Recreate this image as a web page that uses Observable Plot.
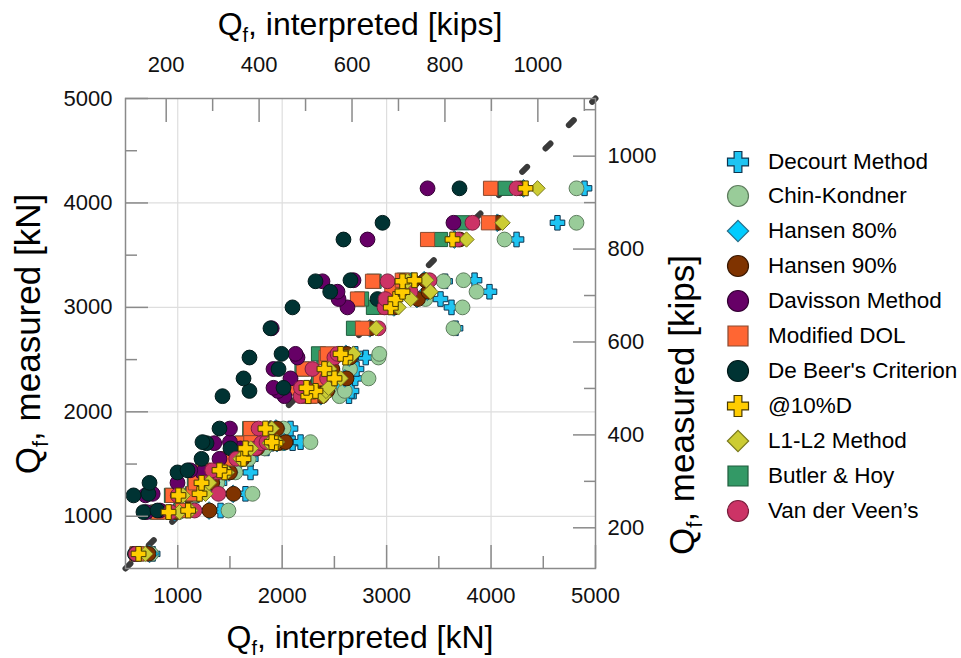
<!DOCTYPE html>
<html><head><meta charset="utf-8">
<script src="https://cdn.jsdelivr.net/npm/d3@7"></script>
<script src="https://cdn.jsdelivr.net/npm/@observablehq/plot@0.6"></script>
<style>
body{margin:0;background:#fff;font-family:"Liberation Sans",Arial,sans-serif;}
#wrap{position:relative;width:961px;height:658px;overflow:hidden;background:#fff;}
#chart{position:absolute;left:0;top:0;}
#legend{position:absolute;left:0;top:0;width:961px;height:658px;}
.lt{position:absolute;left:768px;font-size:22.5px;line-height:26px;white-space:nowrap;color:#000;}
</style></head><body><div id="wrap"><div id="chart"></div><div id="legend"></div></div>
<script>
const KIP = 4.448; // kN per kip

// measured capacity of each pile [kN]
const measured = [640,1040,1055,1200,1215,1320,1420,1440,1550,1650,1700,1710,1840,2150,2200,2230,2320,2410,2520,2555,2800,3000,3080,3150,3250,3260,3650,3810,4140];
// interpreted capacity by method [kN] (same pile order)
const deBeer   = [590,672,806,577,720,730,998,1094,1228,1505,1276,1237,1400,1429,1687,2013,1630,1965,1687,1994,1888,2099,2913,2460,2319,2654,2587,2961,3698];
const davisson = [600,700,830,691,760,998,1237,1120,1400,1600,1350,1500,1500,2022,1960,1917,2080,1917,2147,2128,1900,2625,2540,2530,2386,2683,2817,3640,3392];
const modDOL   = [610,815,1046,950,1150,1170,1300,1250,1480,1601,1620,1700,1697,2271,2200,2128,2367,2204,2420,2434,2769,3000,2721,3050,2865,3150,3392,3975,3995];
const butler   = [615,800,1030,940,1140,1160,1290,1240,1470,1600,1610,1690,1690,2260,2190,2120,2350,2190,2400,2348,2683,2874,2760,3060,2880,3170,3516,3727,4138];
const vdv      = [600,931,1161,1000,1390,1260,1380,1330,1560,1745,1800,1850,1774,2176,2260,2180,2430,2290,2500,2530,2922,2980,2989,3229,3009,3411,3679,3822,4244];
const d10      = [625,912,1100,1007,1209,1228,1448,1400,1630,1649,1936,1900,1840,2250,2319,2233,2501,2405,2606,2559,null,3040,3085,3152,3152,3267,3631,null,4330];
const l1l2     = [690,1017,1120,1050,1266,1300,1470,1420,1600,1700,1880,1950,1900,2396,2420,2444,2560,2450,2640,2683,2900,3114,3230,3420,3200,3380,3765,4110,4445];
const hansen90 = [720,980,1304,1100,1534,1330,1500,1440,1620,1760,1960,2032,1950,2380,2430,2300,2616,2480,2650,2620,2846,3080,3300,3400,3250,3372,3700,4071,4280];
const hansen80 = [730,970,1300,1090,1530,1320,1490,1430,1610,1750,1950,2020,1940,2370,2420,2290,2600,2470,2640,2610,2840,3070,3290,3390,3240,3360,3650,4060,4310];
const decourt  = [760,1000,1410,1180,1649,1400,1697,1500,1700,1850,2100,2176,2080,2640,2664,2550,2700,2712,2800,2700,3660,3621,3516,3985,3560,3842,4244,4636,4895];
const chin     = [745,1010,1486,1160,1716,1380,1553,1480,1680,1830,2010,2271,2013,2549,2600,2450,2827,2650,2922,2930,3640,3727,3372,3861,3545,3736,4129,4818,4818];

// ticks
const kNMajor = [1000,2000,3000,4000,5000];
const kNMinor = [1500,2500,3500,4500];
const kipsMajor = [200,400,600,800,1000];
const kipsMinor = [300,500,700,900,1100];
const oneToOne = [500,5000];

const thickPlus = {draw(ctx, size){
  const a = Math.sqrt(size/Math.PI), t = a*0.37;
  ctx.moveTo(-t,-a);ctx.lineTo(t,-a);ctx.lineTo(t,-t);ctx.lineTo(a,-t);ctx.lineTo(a,t);ctx.lineTo(t,t);
  ctx.lineTo(t,a);ctx.lineTo(-t,a);ctx.lineTo(-t,t);ctx.lineTo(-a,t);ctx.lineTo(-a,-t);ctx.lineTo(-t,-t);ctx.closePath();
}};

const series = [
  {name:"Decourt Method", vals:decourt, sym:thickPlus, fill:"#1ec4f2", stroke:"#0d3550", r:7.3, lr:10.5},
  {name:"Chin-Kondner", vals:chin, sym:d3.symbolCircle, fill:"#99cc99", stroke:"#5e7d5e", r:7.4, lr:10.5},
  {name:"Hansen 80%", vals:hansen80, sym:d3.symbolDiamond2, fill:"#00ccff", stroke:"#2a6f8a", r:8.0, lr:9.6},
  {name:"Hansen 90%", vals:hansen90, sym:d3.symbolCircle, fill:"#7f3300", stroke:"#3a1800", r:7.4, lr:10.5},
  {name:"Davisson Method", vals:davisson, sym:d3.symbolCircle, fill:"#660066", stroke:"#330033", r:7.4, lr:10.5},
  {name:"Modified DOL", vals:modDOL, sym:d3.symbolSquare, fill:"#ff6633", stroke:"#8a4a30", r:8.0, lr:11.3},
  {name:"De Beer's Criterion", vals:deBeer, sym:d3.symbolCircle, fill:"#003333", stroke:"#001a1a", r:7.4, lr:10.5},
  {name:"@10%D", vals:d10, sym:thickPlus, fill:"#ffcc00", stroke:"#4a3b00", r:7.4, lr:10.5},
  {name:"L1-L2 Method", vals:l1l2, sym:d3.symbolDiamond2, fill:"#cccc33", stroke:"#7a7a20", r:6.9, lr:9.6},
  {name:"Butler & Hoy", vals:butler, sym:d3.symbolSquare, fill:"#339966", stroke:"#1f5c3d", r:8.0, lr:11.3},
  {name:"Van der Veen\u2019s", vals:vdv, sym:d3.symbolCircle, fill:"#cc3366", stroke:"#7a1f3d", r:7.4, lr:10.5}
];
const drawOrder = ["Decourt Method","Chin-Kondner","Hansen 80%","Hansen 90%","Butler & Hoy","Modified DOL","Davisson Method","De Beer's Criterion","Van der Veen\u2019s","L1-L2 Method","@10%D"];

const rows = v => measured.map((m,i)=>({x:v[i], y:m})).filter(d=>d.x!=null);
const byName = Object.fromEntries(series.map(s=>[s.name,s]));
const dotMarks = drawOrder.map(n=>{const s=byName[n];
  return Plot.dot(rows(s.vals), {x:"x", y:"y", symbol:s.sym, r:s.r, fill:s.fill, stroke:s.stroke, strokeWidth:1});});

const tickColor = "#8a8a8a";
const fmt = d=>String(Math.round(d));
const fmtK = d=>String(Math.round(d/KIP));
const major = {stroke:tickColor, strokeWidth:1.5, fill:"#111", fontSize:22, label:null};
const minor = {stroke:tickColor, strokeWidth:1.5, fill:"none", label:null, tickSize:-12};

const chart = Plot.plot({
  width:720, height:658,
  marginLeft:125, marginRight:125, marginTop:98, marginBottom:90,
  style:{fontFamily:"'Liberation Sans', Arial, sans-serif", fontSize:"22px", background:"white", color:"#111"},
  x:{domain:[500,5000]},
  y:{domain:[500,5000]},
  marks:[
    Plot.gridX(kNMajor.slice(0,4), {stroke:"#dedede", strokeOpacity:1, strokeWidth:1.2}),
    Plot.gridY(kNMajor.slice(0,4), {stroke:"#dedede", strokeOpacity:1, strokeWidth:1.2}),
    Plot.line(oneToOne, {x:d=>d, y:d=>d, stroke:"#3a3a3a", strokeWidth:6, strokeDasharray:"7,26", strokeLinecap:"round"}),
    ...dotMarks,
    Plot.frame({stroke:tickColor, strokeWidth:1.5}),
    Plot.axisX(kNMajor, {...major, anchor:"bottom", tickSize:-23, tickPadding:42, tickFormat:fmt}),
    Plot.axisX(kNMinor, {...minor, anchor:"bottom"}),
    Plot.axisX(kipsMajor.map(k=>k*KIP), {...major, anchor:"top", tickSize:-23, tickPadding:50, tickFormat:fmtK}),
    Plot.axisX(kipsMinor.map(k=>k*KIP), {...minor, anchor:"top"}),
    Plot.axisY(kNMajor, {...major, anchor:"left", tickSize:-23, tickPadding:36, tickFormat:fmt}),
    Plot.axisY(kNMinor, {...minor, anchor:"left"}),
    Plot.axisY(kipsMajor.map(k=>k*KIP), {...major, anchor:"right", tickSize:-23, tickPadding:35, tickFormat:fmtK}),
    Plot.axisY(kipsMinor.map(k=>k*KIP), {...minor, anchor:"right"})
  ]
});
document.getElementById("chart").appendChild(chart);

// axis titles with subscript f
const svg = d3.select(chart);
function title(x, y, rot, size, rest){
  const t = svg.append("text")
    .attr("transform", `translate(${x},${y})` + (rot ? ` rotate(${rot})` : ""))
    .attr("text-anchor","middle").attr("font-size", size).attr("fill","#000")
    .attr("font-family","'Liberation Sans', Arial, sans-serif");
  t.append("tspan").text("Q");
  t.append("tspan").attr("font-size", size*0.62).attr("dy", size*0.22).text("f");
  t.append("tspan").attr("dy", -size*0.22).text(rest);
}
title(360, 35, 0, 32, ", interpreted [kips]");
title(360, 648, 0, 32, ", interpreted [kN]");
title(40, 334, -90, 35, ", measured [kN]");
title(694, 405, -90, 35, ", measured [kips]");

// legend
const leg = d3.select("#legend");
series.forEach((s,i)=>{
  const cy = 161.5 + i*34.95;
  const ls = leg.append("svg").style("position","absolute").style("left","722px").style("top",(cy-16)+"px")
    .attr("width",32).attr("height",32);
  ls.append("path").attr("transform","translate(16,16)")
    .attr("d", d3.symbol(s.sym, Math.PI*s.lr*s.lr)())
    .attr("fill", s.fill).attr("stroke", s.stroke).attr("stroke-width",1.2);
  leg.append("div").attr("class","lt").style("top",(cy-13)+"px").text(s.name);
});
</script></body></html>
